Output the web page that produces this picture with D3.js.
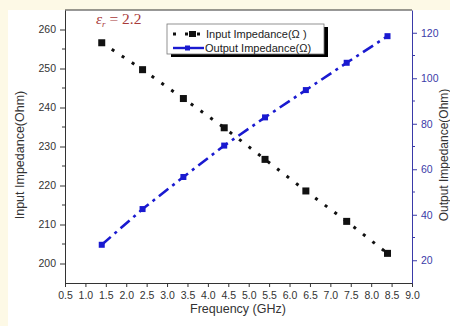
<!DOCTYPE html>
<html><head><meta charset="utf-8">
<script src="https://cdn.jsdelivr.net/npm/d3@7"></script>
<style>body{margin:0;background:#fdf9e6;}svg{display:block;}</style>
</head><body>
<script>
const freq = [1.4, 2.4, 3.4, 4.4, 5.4, 6.4, 7.4, 8.4];
const inputImp = [256.6, 249.7, 242.3, 234.8, 226.7, 218.6, 210.8, 202.6];
const outputImp = [26.8, 42.5, 56.6, 70.4, 82.8, 94.8, 106.8, 118.5];
const xTicks = [0.5,1.0,1.5,2.0,2.5,3.0,3.5,4.0,4.5,5.0,5.5,6.0,6.5,7.0,7.5,8.0,8.5,9.0];
const yLeftTicks = [200,210,220,230,240,250,260];
const yRightTicks = [20,40,60,80,100,120];

const W=450,H=326;
const m={l:65,t:10,r:412,b:283};
const svg=d3.select("body").append("svg").attr("width",W).attr("height",H);
svg.append("rect").attr("x",8).attr("y",10).attr("width",W-8).attr("height",H-10).attr("fill","#fff");

const x=d3.scaleLinear().domain([0.5,9.0]).range([m.l,m.r]);
const yL=d3.scaleLinear().domain([195,265]).range([m.b,m.t]);
const yR=d3.scaleLinear().domain([10,130]).range([m.b,m.t]);
const font="Liberation Sans, Arial, sans-serif";
const rightCol="#3a3aa8";

// frame top
svg.append("line").attr("x1",m.l).attr("x2",m.r).attr("y1",m.t).attr("y2",m.t).attr("stroke","#333").attr("stroke-width",1);

// x axis
const gx=svg.append("g").attr("transform",`translate(0,${m.b})`)
  .call(d3.axisBottom(x).tickValues(xTicks).tickFormat(d3.format(".1f")).tickSize(4).tickSizeOuter(0));
gx.selectAll("text").attr("font-family",font).attr("font-size",10.5).attr("fill","#333").attr("dy","0.9em");
gx.select(".domain").attr("stroke","#333");
gx.selectAll(".tick line").attr("stroke","#333");

// left axis
const gl=svg.append("g").attr("transform",`translate(${m.l},0)`)
  .call(d3.axisLeft(yL).tickValues(yLeftTicks).tickSize(5).tickSizeOuter(0).tickPadding(4));
gl.selectAll("text").attr("font-family",font).attr("font-size",10.5).attr("fill","#333");
gl.select(".domain").attr("stroke","#333");
gl.selectAll(".tick line").attr("stroke","#333");
gl.selectAll(".minor").data(yLeftTicks.map(v=>v+5).filter(v=>v<265)).enter().append("line")
  .attr("x1",-3).attr("x2",0).attr("y1",d=>yL(d)).attr("y2",d=>yL(d)).attr("stroke","#333");

// right axis
const gr=svg.append("g").attr("transform",`translate(${m.r},0)`)
  .call(d3.axisRight(yR).tickValues(yRightTicks).tickSize(5).tickSizeOuter(0).tickPadding(4));
gr.selectAll("text").attr("font-family",font).attr("font-size",10.5).attr("fill",rightCol);
gr.select(".domain").attr("stroke",rightCol);
gr.selectAll(".tick line").attr("stroke",rightCol);
gr.selectAll(".minor").data(yRightTicks.map(v=>v+10).filter(v=>v<130)).enter().append("line")
  .attr("x1",0).attr("x2",3).attr("y1",d=>yR(d)).attr("y2",d=>yR(d)).attr("stroke",rightCol);

// titles
svg.append("text").attr("x",238).attr("y",313).attr("text-anchor","middle")
  .attr("font-family",font).attr("font-size",12.5).attr("fill","#333").text("Frequency (GHz)");
svg.append("text").attr("transform","translate(24,155) rotate(-90)").attr("text-anchor","middle")
  .attr("font-family",font).attr("font-size",12.5).attr("fill","#333").text("Input Impedance(Ohm)");
svg.append("text").attr("transform","translate(448,155) rotate(-90)").attr("text-anchor","middle")
  .attr("font-family",font).attr("font-size",12).attr("fill","#333").text("Output Impedance(Ohm)");

// epsilon label
const eps=svg.append("text").attr("x",96).attr("y",24).attr("font-family","Liberation Serif, Times New Roman, serif")
  .attr("font-size",15.5).attr("fill","#a83a3a");
eps.append("tspan").attr("font-style","italic").text("ε");
eps.append("tspan").attr("font-style","italic").attr("font-size",9).attr("dy",3).text("r");
eps.append("tspan").attr("dy",-3).text(" = 2.2");

// input series
const lineIn=d3.line().x((d,i)=>x(freq[i])).y(d=>yL(d));
svg.append("path").datum(inputImp).attr("d",lineIn).attr("fill","none").attr("stroke","#111")
  .attr("stroke-width",3).attr("stroke-dasharray","3,9");
svg.selectAll(".mi").data(inputImp).enter().append("rect")
  .attr("x",(d,i)=>x(freq[i])-3.5).attr("y",d=>yL(d)-3.5).attr("width",7).attr("height",7).attr("fill","#111");

// output series
const lineOut=d3.line().x((d,i)=>x(freq[i])).y(d=>yR(d));
svg.append("path").datum(outputImp).attr("d",lineOut).attr("fill","none").attr("stroke","#1a1ad0")
  .attr("stroke-width",2.6).attr("stroke-dasharray","12,5,3,5");
svg.selectAll(".mo").data(outputImp).enter().append("rect")
  .attr("x",(d,i)=>x(freq[i])-3).attr("y",d=>yR(d)-3).attr("width",6).attr("height",6).attr("fill","#1a1ad0");

// legend
const lg=svg.append("g");
lg.append("rect").attr("x",171).attr("y",27).attr("width",157).attr("height",30).attr("fill","#000");
lg.append("rect").attr("x",167).attr("y",24).attr("width",157).attr("height",30).attr("fill","#fff").attr("stroke","#777").attr("stroke-width",0.8);
lg.append("line").attr("x1",173).attr("x2",200).attr("y1",34).attr("y2",34).attr("stroke","#111").attr("stroke-width",3).attr("stroke-dasharray","3,9");
lg.append("rect").attr("x",189).attr("y",31).attr("width",7).attr("height",6).attr("fill","#111");
lg.append("text").attr("x",206).attr("y",38).attr("font-family",font).attr("font-size",11).attr("fill","#222").text("Input Impedance(Ω )");
lg.append("line").attr("x1",173).attr("x2",204).attr("y1",48).attr("y2",48).attr("stroke","#1a1ad0").attr("stroke-width",2.4);
lg.append("rect").attr("x",185).attr("y",45.5).attr("width",5).attr("height",5).attr("fill","#1a1ad0");
lg.append("text").attr("x",205).attr("y",52).attr("font-family",font).attr("font-size",11).attr("fill","#222").text("Output Impedance(Ω)");
</script>
</body></html>
